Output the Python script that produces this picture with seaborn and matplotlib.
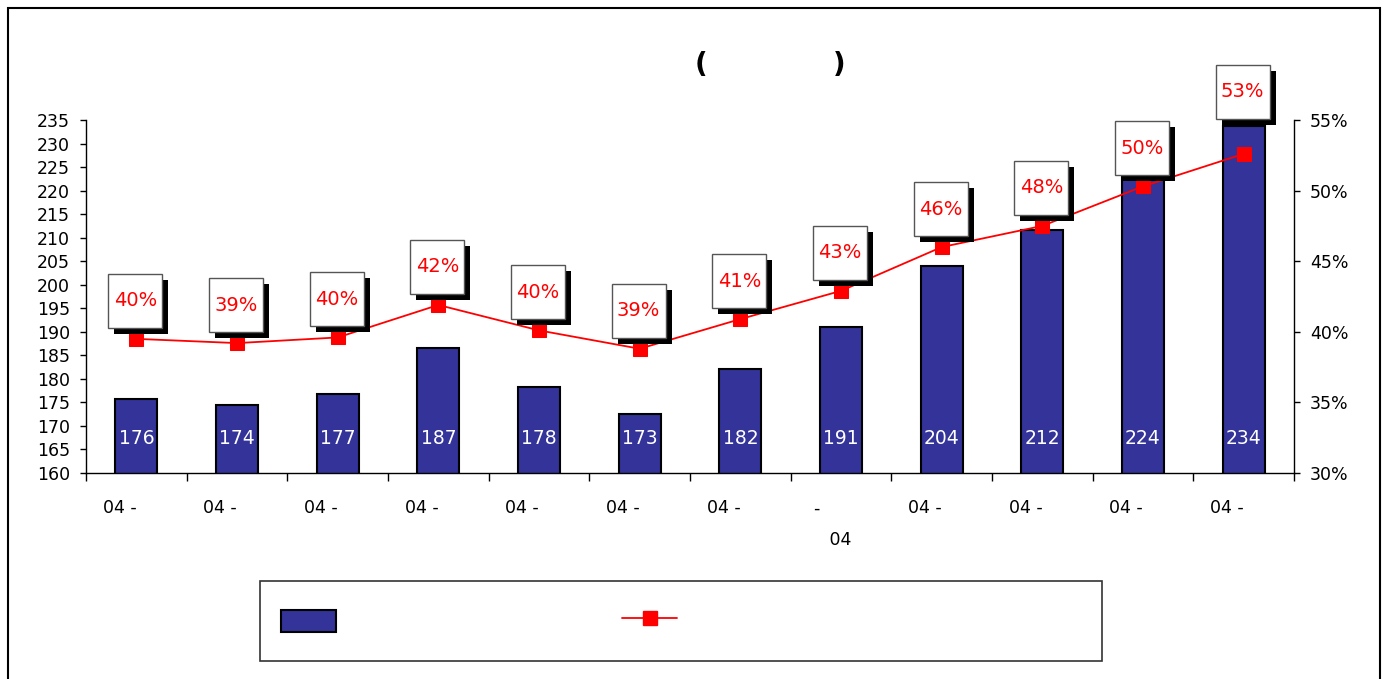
import seaborn as sns
import matplotlib.pyplot as plt
import numpy as np
import pandas as pd
from matplotlib.patches import Rectangle, Patch
from matplotlib.lines import Line2D
from matplotlib.transforms import ScaledTranslation
from matplotlib.ticker import MultipleLocator, PercentFormatter

# month labels (only the "04 -" part survived, the rest of the text was lost)
month_labels = ['04 -', '04 -', '04 -', '04 -', '04 -', '04 -',
                '04 -', '-\n   04', '04 -', '04 -', '04 -', '04 -']
# bar series (left axis)
counts = [175.8, 174.4, 176.7, 186.6, 178.3, 172.6, 182.1, 191.1, 203.9, 211.6, 224.3, 233.7]
# line series, percent (right axis)
share = [39.5, 39.2, 39.6, 41.9, 40.1, 38.8, 40.9, 42.9, 46.0, 47.5, 50.3, 52.6]

title_text = '(' + ' ' * 13 + ')'

BAR_COLOR = '#333399'
LINE_COLOR = '#ff0000'

df = pd.DataFrame({'idx': np.arange(len(counts)), 'count': counts, 'share': share})

sns.set_style('white')
plt.rcParams['font.family'] = ['DejaVu Sans']
plt.rcParams['text.color'] = 'black'
plt.rcParams['xtick.color'] = 'black'
plt.rcParams['ytick.color'] = 'black'
plt.rcParams['axes.edgecolor'] = 'black'

fig = plt.figure(figsize=(13.86, 6.79), dpi=100)
ax = fig.add_axes([86 / 1386, 1 - 473 / 679, (1294 - 86) / 1386, (473 - 120) / 679])

# bars
sns.barplot(data=df, x='idx', y='count', color=BAR_COLOR, saturation=1, width=0.42,
            edgecolor='black', linewidth=1.5, ax=ax)
ax.set_ylim(160, 235)
ax.set_xlim(-0.5, 11.5)
ax.yaxis.set_major_locator(MultipleLocator(5))
ax.set_xlabel('')
ax.set_ylabel('')

# value labels inside the bars
for i, v in enumerate(counts):
    ax.text(i, 167.4, f'{v:.0f}', color='white', ha='center', va='center', fontsize=13.5)

# x ticks: labels at the centres, tick marks between categories
ax.set_xticks(np.arange(len(counts)))
ax.set_xticklabels(month_labels, ha='right', multialignment='left', linespacing=2.0)
ax.set_xticks(np.arange(-0.5, len(counts), 1), minor=True)
ax.tick_params(axis='x', which='major', length=0, pad=19, labelsize=12.5, bottom=True,
               labelcolor='black')
ax.tick_params(axis='x', which='minor', length=6, width=1, color='black', direction='out', bottom=True)
ax.tick_params(axis='y', length=4.5, width=1, color='black', direction='out', pad=7,
               labelsize=12.5, left=True, labelcolor='black')
lbl = ax.get_xticklabels()[7]
lbl.set_transform(lbl.get_transform() + ScaledTranslation(0.10, 0, fig.dpi_scale_trans))

for s in ['top', 'right']:
    ax.spines[s].set_visible(False)
for s in ['left', 'bottom']:
    ax.spines[s].set_color('black')
    ax.spines[s].set_linewidth(1)

# line on the right axis
ax2 = ax.twinx()
sns.lineplot(data=df, x='idx', y='share', color=LINE_COLOR, marker='s', markersize=9.5,
             markeredgecolor=LINE_COLOR, linewidth=1.3, ax=ax2)
ax2.set_ylim(30, 55)
ax2.set_xlim(-0.5, 11.5)
ax2.set_ylabel('')
ax2.set_xlabel('')
ax2.yaxis.set_major_locator(MultipleLocator(5))
ax2.yaxis.set_major_formatter(PercentFormatter(decimals=0))
ax2.tick_params(axis='y', length=4.5, width=1, color='black', direction='out', pad=7,
                labelsize=12.5, right=True, labelcolor='black')
for s in ['top', 'left', 'bottom']:
    ax2.spines[s].set_visible(False)
ax2.spines['right'].set_color('black')
ax2.spines['right'].set_linewidth(1)

# percent labels in white boxes with a black drop shadow
for i, p in enumerate(share):
    lift = 0.11 if i < len(share) - 1 else 0.35
    tr = fig.dpi_scale_trans + ScaledTranslation(i, p, ax2.transData)
    ax2.add_patch(Rectangle((-0.22, lift - 0.06), 0.54, 0.54, transform=tr,
                            facecolor='black', edgecolor='none', zorder=6, clip_on=False))
    ax2.add_patch(Rectangle((-0.28, lift), 0.54, 0.54, transform=tr,
                            facecolor='white', edgecolor='#555555', linewidth=1, zorder=7, clip_on=False))
    ax2.text(-0.01, lift + 0.27, f'{p:.0f}%', transform=tr, color=LINE_COLOR, fontsize=14,
             ha='center', va='center', zorder=8, clip_on=False)

# title (only the brackets are left)
fig.text(770 / 1386, 1 - 65 / 679, title_text, ha='center', va='center', fontsize=20,
         fontweight='bold', color='black')

# legend, labels were lost as well
handles = [Patch(facecolor=BAR_COLOR, edgecolor='black', linewidth=1.5),
           Line2D([], [], color=LINE_COLOR, marker='s', markersize=9.5, linewidth=1.3)]
fig.legend(handles, ['', ''], loc='center left', bbox_to_anchor=(281 / 1386, 1 - 621 / 679),
           ncol=2, frameon=False, fontsize=12.5, handlelength=3.16, handleheight=1.6,
           handletextpad=0.8, columnspacing=15.7, borderpad=0, borderaxespad=0)
fig.add_artist(Rectangle((260 / 1386, 1 - 661 / 679), 842 / 1386, 80 / 679, transform=fig.transFigure,
                         fill=False, edgecolor='#333333', linewidth=1.2))

# outer frame of the picture
fig.add_artist(Rectangle((8 / 1386, -0.05), 1372 / 1386, 1 - 8 / 679 + 0.05, transform=fig.transFigure,
                         fill=False, edgecolor='black', linewidth=1.5))

fig.savefig('out.png', dpi=100)
